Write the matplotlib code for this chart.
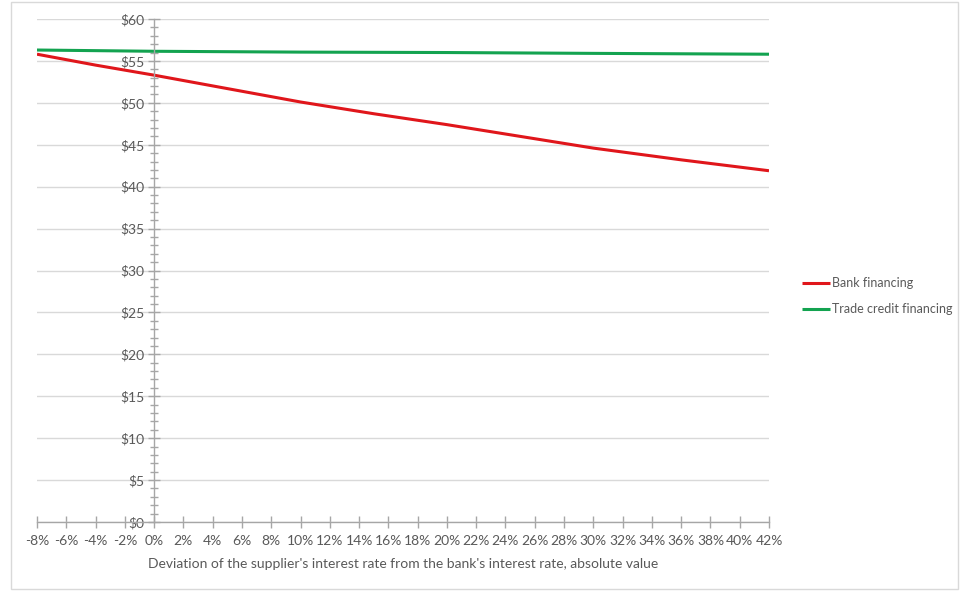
import matplotlib
matplotlib.use("Agg")
import matplotlib.pyplot as plt
from matplotlib.patches import Rectangle
from matplotlib.ticker import FuncFormatter, MultipleLocator

plt.rcParams.update({
    'font.family': ['Lato', 'DejaVu Sans'],
    'font.size': 10,
    'text.color': '#595959',
    'axes.labelcolor': '#595959',
    'xtick.color': '#a6a6a6',
    'ytick.color': '#a6a6a6',
    'xtick.labelcolor': '#595959',
    'ytick.labelcolor': '#595959',
})

# Deviation of supplier rate from bank rate (%) and cost ($)
bank_dev = [-8, -4, 0, 5, 10, 15, 20, 25, 30, 36, 42]
bank_cost = [55.8, 54.5, 53.3, 51.7, 50.1, 48.7, 47.4, 46.0, 44.6, 43.2, 41.9]
trade_dev = [-8, 0, 10, 20, 30, 42]
trade_cost = [56.3, 56.15, 56.05, 56.0, 55.9, 55.8]

RED = '#e0161b'
GREEN = '#13a350'
GRID = '#d9d9d9'
AXIS = '#a6a6a6'

W, H = 960, 591
fig = plt.figure(figsize=(9.6, 5.91), dpi=100)
ax = fig.add_axes([37 / W, 1 - 522 / H, (769 - 37) / W, (522 - 19) / H])

ax.plot(bank_dev, bank_cost, color=RED, lw=2.2, label='Bank financing',
        solid_capstyle='butt')
ax.plot(trade_dev, trade_cost, color=GREEN, lw=2.2, label='Trade credit financing',
        solid_capstyle='butt')

ax.set_xlim(-8, 42)
ax.set_ylim(0, 60)

# horizontal gridlines only
ax.yaxis.set_major_locator(MultipleLocator(5))
ax.yaxis.set_minor_locator(MultipleLocator(1))
ax.xaxis.set_major_locator(MultipleLocator(2))
ax.grid(axis='y', which='major', color=GRID, lw=1)
ax.set_axisbelow(True)

# value axis crosses at 0%
for side in ('top', 'right'):
    ax.spines[side].set_visible(False)
ax.spines['left'].set_position(('data', 0))
ax.spines['left'].set_color(AXIS)
ax.spines['bottom'].set_color(AXIS)
ax.spines['left'].set_linewidth(1)
ax.spines['bottom'].set_linewidth(1)

ax.tick_params(axis='y', which='major', direction='inout', length=8, width=1, pad=3)
ax.tick_params(axis='y', which='minor', direction='inout', length=6, width=1)
ax.tick_params(axis='x', which='major', direction='inout', length=9, width=1, pad=5)

ax.yaxis.set_major_formatter(FuncFormatter(lambda v, p: f'${v:.0f}'))
ax.xaxis.set_major_formatter(FuncFormatter(lambda v, p: f'{v:.0f}%'))

ax.set_xlabel("Deviation of the supplier's interest rate from the bank's interest rate, absolute value",
              fontsize=10, labelpad=8)

fig.legend(loc='center left', bbox_to_anchor=(802 / W, 1 - 296 / H), frameon=False,
           borderpad=0, borderaxespad=0,
           handlelength=2.2, handletextpad=0.2, labelspacing=1.1, fontsize=9,
           labelcolor='#595959')

# chart area border
fig.patches.append(Rectangle((11 / W, 2 / H), (958 - 11) / W, (589 - 2) / H,
                             transform=fig.transFigure, fill=False,
                             edgecolor=GRID, lw=1))

fig.savefig('out.png', dpi=100)
